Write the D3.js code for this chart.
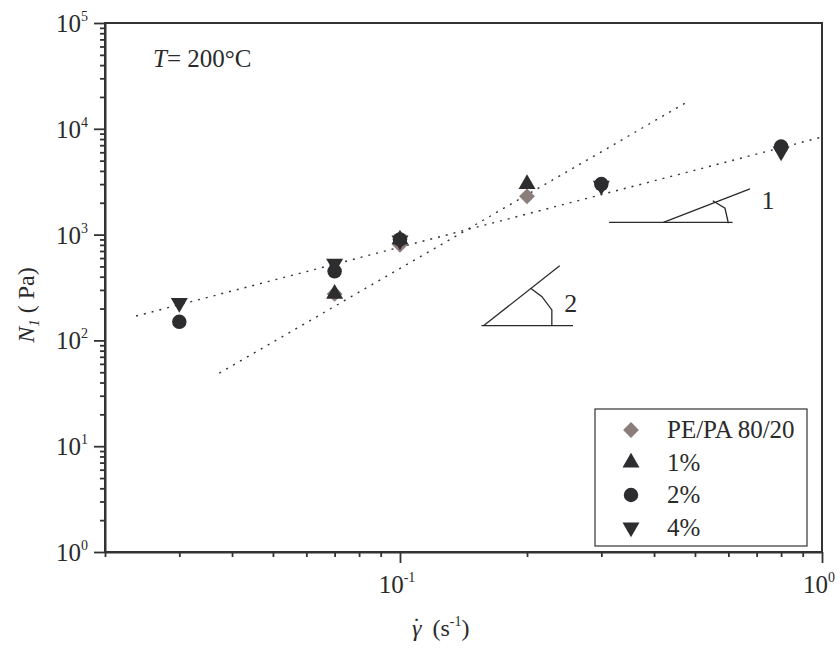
<!DOCTYPE html>
<html>
<head>
<meta charset="utf-8">
<script src="https://cdn.jsdelivr.net/npm/d3@7"></script>
<style>
  body { margin: 0; background: #fff; }
  text { fill: #2a2a2a; font-family: "Liberation Serif", "Times New Roman", Times, serif; }
</style>
</head>
<body>
<div id="chart"></div>
<script>
// shear rate (1/s) and N1 (Pa)
const pepaX = [0.07, 0.1, 0.2];
const pepaY = [275, 800, 2300];
const p1X = [0.07, 0.1, 0.2];
const p1Y = [275, 900, 3000];
const p2X = [0.03, 0.07, 0.1, 0.3, 0.8];
const p2Y = [150, 450, 900, 3000, 6800];
const p4X = [0.03, 0.07, 0.1, 0.3, 0.8];
const p4Y = [226, 530, 880, 2900, 6100];

const seriesNames = ["PE/PA 80/20", "1%", "2%", "4%"];

// dotted guide lines [x, y] ends
const guide1 = [[0.0237, 170], [1.0, 8360]];
const guide2 = [[0.0373, 49], [0.479, 17900]];

// slope marks (data units)
const slope1Base = [[0.313, 1306], [0.614, 1306]];
const slope1Hyp = [[0.421, 1306], [0.675, 2700]];
const slope1Arc = [[0.551, 2090], [0.589, 1774], [0.600, 1280]];
const slope1Label = [0.745, 2124, "1"];
const slope2Base = [[0.156, 138], [0.257, 138]];
const slope2Hyp = [[0.158, 138], [0.239, 508]];
const slope2Arc = [[0.204, 311], [0.217, 259], [0.229, 194], [0.229, 138]];
const slope2Label = [0.254, 225, "2"];

const xDecades = [-1, 0];
const yDecades = [0, 1, 2, 3, 4, 5];

const width = 840, height = 651;
const margin = { top: 23, right: 18, bottom: 99, left: 105 };
const w = width - margin.left - margin.right;
const h = height - margin.top - margin.bottom;

const svg = d3.select("#chart").append("svg")
  .attr("width", width)
  .attr("height", height)
  .attr("font-family", "Liberation Serif, Times New Roman, serif");
const g = svg.append("g")
  .attr("transform", `translate(${margin.left},${margin.top})`);

const x = d3.scaleLog().domain([0.02, 1]).range([0, w]);
const y = d3.scaleLog().domain([1, 1e5]).range([h, 0]);

const axisColor = "#333";
const darkFill = "#2d2d30";

// frame
g.append("rect")
  .attr("width", w).attr("height", h)
  .attr("fill", "none")
  .attr("stroke", axisColor)
  .attr("stroke-width", 2);

// ticks: major + minor
const xMinor = [];
for (let e = -2; e <= 0; e++) {
  for (let m = 1; m <= 9; m++) {
    const v = m * Math.pow(10, e);
    if (v >= 0.02 - 1e-9 && v <= 1 + 1e-9) xMinor.push(v);
  }
}
const yMinor = [];
for (let e = 0; e < 5; e++) {
  for (let m = 2; m <= 9; m++) yMinor.push(m * Math.pow(10, e));
}
const isDecade = (d) => Math.abs(Math.log10(d) - Math.round(Math.log10(d))) < 1e-6;

const xAxis = d3.axisBottom(x)
  .tickValues(xMinor)
  .tickSizeInner(0).tickSizeOuter(0)
  .tickFormat("");
const xg = g.append("g").attr("transform", `translate(0,${h})`).call(xAxis);
xg.select(".domain").attr("stroke", axisColor).attr("stroke-width", 2);
xg.selectAll(".tick line")
  .attr("stroke", axisColor).attr("stroke-width", 1.8)
  .attr("y2", (d) => (isDecade(d) ? 11 : 5));

const yAxis = d3.axisLeft(y)
  .tickValues(yMinor.concat(yDecades.map((e) => Math.pow(10, e))))
  .tickSizeInner(0).tickSizeOuter(0)
  .tickFormat("");
const yg = g.append("g").call(yAxis);
yg.select(".domain").attr("stroke", axisColor).attr("stroke-width", 2);
yg.selectAll(".tick line")
  .attr("stroke", axisColor).attr("stroke-width", 1.8)
  .attr("x2", (d) => (isDecade(d) ? -11 : -5));

// decade labels
yDecades.forEach((e) => {
  const t = g.append("text")
    .attr("x", -17)
    .attr("y", y(Math.pow(10, e)) + 9)
    .attr("text-anchor", "end")
    .style("font-size", "25px");
  t.append("tspan").text("10");
  t.append("tspan").attr("dy", -11).style("font-size", "14px").text(e);
});
xDecades.forEach((e) => {
  const t = g.append("text")
    .attr("x", x(Math.pow(10, e)) - 3)
    .attr("y", h + 41)
    .attr("text-anchor", "middle")
    .style("font-size", "25px");
  t.append("tspan").text("10");
  t.append("tspan").attr("dy", -11).style("font-size", "14px").text(e);
});

// axis titles
const xt = svg.append("text")
  .attr("x", 412).attr("y", 636)
  .style("font-size", "24px");
xt.append("tspan").style("font-style", "italic").text("\u03B3");
xt.append("tspan").attr("dx", -9).attr("dy", -2).text("\u02D9");
xt.append("tspan").attr("dx", 12).attr("dy", 2).text("(s");
xt.append("tspan").attr("dy", -10).style("font-size", "14px").text("-1");
xt.append("tspan").attr("dy", 10).text(")");

const yt = svg.append("text")
  .attr("transform", "translate(34,305) rotate(-90)")
  .attr("text-anchor", "middle")
  .style("font-size", "24px");
yt.append("tspan").style("font-style", "italic").text("N");
yt.append("tspan").attr("dy", 5).style("font-size", "15px").style("font-style", "italic").text("1");
yt.append("tspan").attr("dy", -5).text(" ( Pa)");

// temperature note
const tt = svg.append("text")
  .attr("x", 153).attr("y", 67)
  .style("font-size", "25px");
tt.append("tspan").style("font-style", "italic").text("T");
tt.append("tspan").text("= 200\u00B0C");

// dotted guides
const line = d3.line().x((d) => x(d[0])).y((d) => y(d[1]));
[guide1, guide2].forEach((gd) => {
  g.append("path")
    .attr("d", line(gd))
    .attr("fill", "none")
    .attr("stroke", "#333")
    .attr("stroke-width", 1.4)
    .attr("stroke-dasharray", "2,6");
});

// slope marks
[slope1Base, slope1Hyp, slope1Arc, slope2Base, slope2Hyp, slope2Arc].forEach((pts) => {
  g.append("path")
    .attr("d", line(pts))
    .attr("fill", "none")
    .attr("stroke", "#2a2a2a")
    .attr("stroke-width", 1.3);
});
[slope1Label, slope2Label].forEach((l) => {
  g.append("text")
    .attr("x", x(l[0])).attr("y", y(l[1]) + 9)
    .attr("text-anchor", "middle")
    .style("font-size", "26px")
    .text(l[2]);
});

// markers
const markers = [
  { name: seriesNames[0], xs: pepaX, ys: pepaY, type: d3.symbolSquare, size: 125, rot: 45, color: "#8b7d7a" },
  { name: seriesNames[1], xs: p1X, ys: p1Y, type: d3.symbolTriangle, size: 125, rot: 0, color: darkFill },
  { name: seriesNames[2], xs: p2X, ys: p2Y, type: d3.symbolCircle, size: 165, rot: 0, color: darkFill },
  { name: seriesNames[3], xs: p4X, ys: p4Y, type: d3.symbolTriangle, size: 125, rot: 180, color: darkFill },
];

markers.forEach((s) => {
  const sym = d3.symbol().type(s.type).size(s.size);
  g.selectAll(null)
    .data(s.xs.map((v, i) => [v, s.ys[i]]))
    .join("path")
    .attr("d", sym)
    .attr("transform", (d) => `translate(${x(d[0])},${y(d[1])}) rotate(${s.rot})`)
    .attr("fill", s.color);
});

// legend
const lg = svg.append("g").attr("transform", "translate(595,409)");
lg.append("rect")
  .attr("width", 212).attr("height", 137)
  .attr("fill", "#fff")
  .attr("stroke", "#333")
  .attr("stroke-width", 1.2);
markers.forEach((s, i) => {
  const yy = 21 + i * 32.5;
  lg.append("path")
    .attr("d", d3.symbol().type(s.type).size(s.size))
    .attr("transform", `translate(36,${yy}) rotate(${s.rot})`)
    .attr("fill", s.color);
  lg.append("text")
    .attr("x", 72).attr("y", yy + 8)
    .style("font-size", "25px")
    .text(s.name);
});
</script>
</body>
</html>
